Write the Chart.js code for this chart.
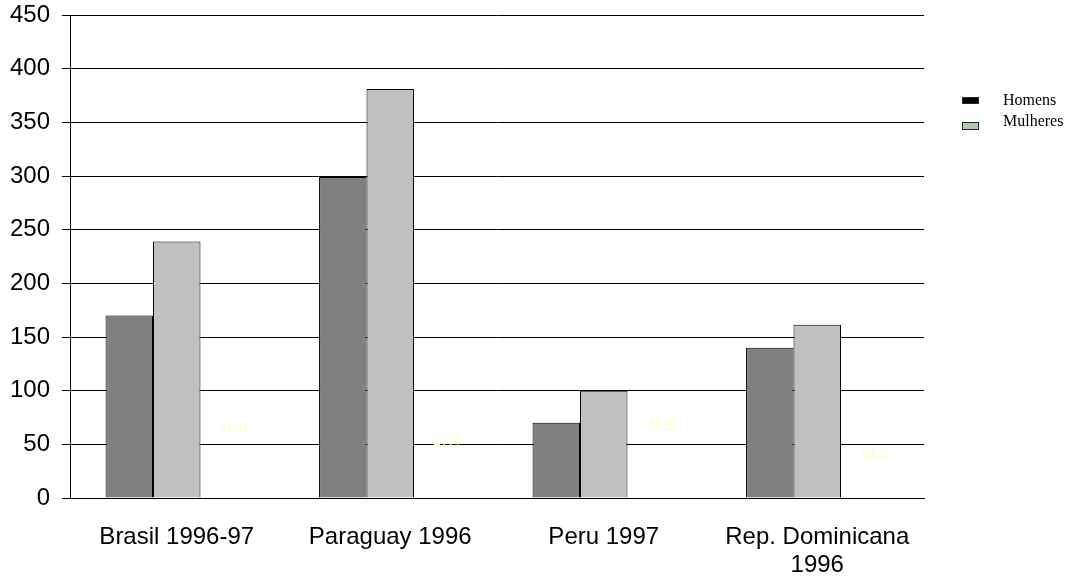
<!DOCTYPE html>
<html>
<head>
<meta charset="utf-8">
<script src="https://cdn.jsdelivr.net/npm/chart.js@4/dist/chart.umd.min.js"></script>
<style>
  html, body { margin: 0; padding: 0; background: #fff; }
  #wrap { position: relative; width: 1073px; height: 577px; }
  canvas { position: absolute; left: 0; top: 0; }
  .leg { position: absolute; font-family: "Liberation Serif", "Times New Roman", serif; font-size: 16px; color: #000; line-height: 1; }
  .mk { position: absolute; width: 15px; height: 5px; border: 1px solid #0a3a0a; }
</style>
</head>
<body>
<div id="wrap">
  <canvas id="c" width="1073" height="577"></canvas>
  <div class="mk" style="left:962px;top:97px;background:#000;"></div>
  <div class="leg" style="left:1003px;top:92px;">Homens</div>
  <div class="mk" style="left:962px;top:122px;height:6px;background:#c0c0c0;"></div>
  <div class="leg" style="left:1003px;top:113px;">Mulheres</div>
</div>
<script>
const categories = ["Brasil 1996-97", "Paraguay 1996", "Peru 1997", ["Rep. Dominicana", "1996"]];
const homens = [170, 299, 70, 140];
const mulheres = [239, 381, 100, 161.5];
const razao = [40.0, 27.4, 41.5, 14.9];
const razaoLabels = ["40.0", "27.4", "41.5", "14.9"];
const yTicks = [0, 50, 100, 150, 200, 250, 300, 350, 400, 450];

const labelPlugin = {
  id: 'razaoLabels',
  afterDatasetsDraw(chart) {
    const meta = chart.getDatasetMeta(2);
    const ctx = chart.ctx;
    ctx.save();
    ctx.fillStyle = '#ffffc0';
    ctx.font = '14px Arial, "Liberation Sans", sans-serif';
    ctx.textAlign = 'center';
    ctx.textBaseline = 'middle';
    meta.data.forEach((bar, i) => {
      ctx.fillText(razaoLabels[i], bar.x + 9, bar.y - 27);
    });
    ctx.restore();
  }
};

new Chart(document.getElementById('c'), {
  type: 'bar',
  data: {
    labels: categories,
    datasets: [
      { label: 'Homens', data: homens, backgroundColor: '#808080', borderColor: '#000', borderWidth: 1 },
      { label: 'Mulheres', data: mulheres, backgroundColor: '#c0c0c0', borderColor: '#000', borderWidth: 1 },
      { label: 'Razão', data: razao, backgroundColor: 'rgba(0,0,0,0)', borderWidth: 0 }
    ]
  },
  options: {
    responsive: false,
    animation: false,
    devicePixelRatio: 1,
    categoryPercentage: 0.667,
    barPercentage: 1.0,
    layout: { padding: { top: 15, right: 149, left: 0, bottom: 0 } },
    plugins: { legend: { display: false }, tooltip: { enabled: false } },
    scales: {
      x: {
        grid: { display: false, drawTicks: false },
        border: { display: true, color: '#000', width: 1 },
        ticks: {
          color: '#000',
          font: { family: 'Arial, "Liberation Sans", sans-serif', size: 24, lineHeight: 1.17 },
          padding: 25,
          maxRotation: 0, autoSkip: false
        },
        afterFit(scale) { scale.height = 79; scale.paddingLeft = 0; scale.paddingRight = 0; }
      },
      y: {
        min: 0, max: 450,
        afterBuildTicks(scale) { scale.ticks = yTicks.map(v => ({ value: v })); },
        grid: { color: '#000', lineWidth: 1, tickLength: 8, drawTicks: true },
        border: { display: true, color: '#000', width: 1 },
        ticks: {
          color: '#000',
          font: { family: 'Arial, "Liberation Sans", sans-serif', size: 24 },
          padding: 12
        },
        afterFit(scale) { scale.width = 70; scale.paddingTop = 0; scale.paddingBottom = 0; }
      }
    }
  },
  plugins: [labelPlugin]
});
</script>
</body>
</html>
